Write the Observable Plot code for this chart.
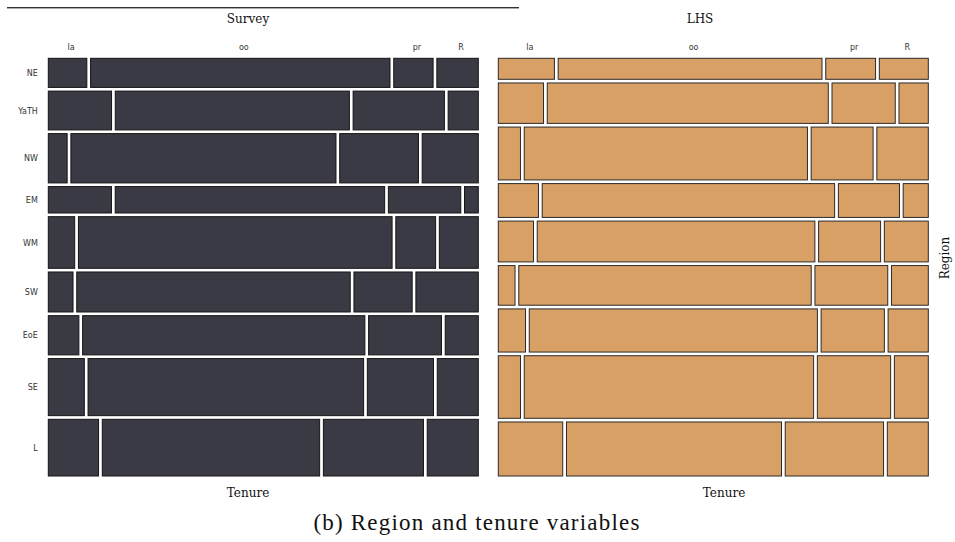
<!DOCTYPE html>
<html><head><meta charset="utf-8">
<script src="https://cdn.jsdelivr.net/npm/d3@7"></script>
<script src="https://cdn.jsdelivr.net/npm/@observablehq/plot@0.6"></script>
<style>
body{margin:0;background:#fff}
#wrap{position:relative;width:955px;height:542px;overflow:hidden;background:#fff}
#chart{position:absolute;left:0;top:0}
.t{position:absolute;font-family:"DejaVu Serif",serif;font-size:12px;color:#111;white-space:nowrap;transform:translate(-50%,-50%)}
#rule{position:absolute;left:7px;top:7px;width:512px;height:0;border-top:1px solid #333;border-bottom:1px solid #aaa}
#cap{position:absolute;left:477px;top:523px;transform:translate(-50%,-50%);font-family:"Liberation Serif",serif;font-size:23px;letter-spacing:1.2px;color:#111;white-space:nowrap}
</style></head><body>
<div id="wrap">
  <div id="rule"></div>
  <div id="chart"></div>
  <div class="t" style="left:248px;top:19px">Survey</div>
  <div class="t" style="left:700px;top:19px">LHS</div>
  <div class="t" style="left:248px;top:493px">Tenure</div>
  <div class="t" style="left:724px;top:493px">Tenure</div>
  <div class="t" style="left:945px;top:258px;transform:translate(-50%,-50%) rotate(-90deg)">Region</div>
  <div id="cap">(b) Region and tenure variables</div>
</div>
<script>
// categories
const regions = ["NE", "YaTH", "NW", "EM", "WM", "SW", "EoE", "SE", "L"];
const tenures = ["la", "oo", "pr", "R"];
const panels = ["Survey", "LHS"];

// Survey: region shares (%) and tenure shares within region (%)
const surveyRegion = [7.5, 10.0, 12.7, 6.8, 13.3, 10.3, 10.1, 14.7, 14.6];
const surveyTenure = [
  [9.2, 71.5, 9.4, 9.9],
  [15.1, 55.9, 21.8, 7.2],
  [4.5, 63.3, 18.8, 13.4],
  [15.1, 64.4, 17.3, 3.3],
  [6.3, 74.9, 9.5, 9.3],
  [5.9, 65.3, 13.9, 14.9],
  [7.3, 67.4, 17.4, 7.9],
  [8.6, 65.8, 15.8, 9.8],
  [12.0, 51.9, 23.9, 12.2]
];

// LHS: region shares (%) and tenure shares within region (%)
const lhsRegion = [5.4, 10.4, 13.6, 8.7, 10.5, 10.2, 11.1, 16.1, 13.9];
const lhsTenure = [
  [13.4, 63.0, 11.9, 11.7],
  [10.8, 67.1, 15.1, 7.0],
  [5.3, 67.7, 14.8, 12.3],
  [9.6, 69.9, 14.6, 6.0],
  [8.4, 66.3, 14.8, 10.5],
  [4.0, 69.9, 17.4, 8.8],
  [6.5, 68.8, 15.1, 9.6],
  [5.3, 69.1, 17.5, 8.1],
  [15.4, 51.4, 23.5, 9.8]
];

const gapX = 0.0087, gapY = 0.0088;
const panelOffset = {Survey: 0, LHS: 450 / 430};

function tiles(panel, regionShare, tenureShare) {
  const off = panelOffset[panel];
  const totR = d3.sum(regionShare);
  const availY = 1 - gapY * (regions.length - 1);
  const availX = 1 - gapX * (tenures.length - 1);
  const out = [];
  let y = 0;
  regions.forEach((r, i) => {
    const h = regionShare[i] / totR * availY;
    const row = tenureShare[i];
    const totT = d3.sum(row);
    let x = off;
    tenures.forEach((t, j) => {
      const w = row[j] / totT * availX;
      out.push({panel, region: r, tenure: t, x1: x, x2: x + w, y1: y, y2: y + h});
      x += w + gapX;
    });
    y += h + gapY;
  });
  return out;
}

const data = [
  ...tiles("Survey", surveyRegion, surveyTenure),
  ...tiles("LHS", lhsRegion, lhsTenure)
];
const topRow = data.filter(d => d.region === regions[0]);
const surveyRows = data.filter(d => d.panel === "Survey" && d.tenure === tenures[0]);

const chart = Plot.plot({
  width: 955,
  height: 505,
  margin: 0,
  x: {domain: [0, panelOffset.LHS + 1], range: [48.3, 928.3], axis: null},
  y: {domain: [0, 1], range: [58.3, 476], axis: null},
  color: {domain: panels, range: ["#3a3a45", "#d9a066"]},
  style: {background: "transparent"},
  marks: [
    Plot.rect(data, {
      x1: "x1", x2: "x2", y1: "y1", y2: "y2",
      fill: "panel",
      stroke: d => d.panel === "Survey" ? "#151515" : "#2a2a2a",
      strokeWidth: 1
    }),
    Plot.text(topRow, {
      x: d => (d.x1 + d.x2) / 2, y: () => 0, text: "tenure",
      dy: -11, dx: 3, fontSize: 8, fontFamily: "DejaVu Sans", fill: "#333"
    }),
    Plot.text(surveyRows, {
      x: () => 0, y: d => (d.y1 + d.y2) / 2, text: "region",
      dx: -11, textAnchor: "end", fontSize: 8, fontFamily: "DejaVu Sans", fill: "#333"
    })
  ]
});
document.getElementById("chart").appendChild(chart);
</script>
</body></html>
